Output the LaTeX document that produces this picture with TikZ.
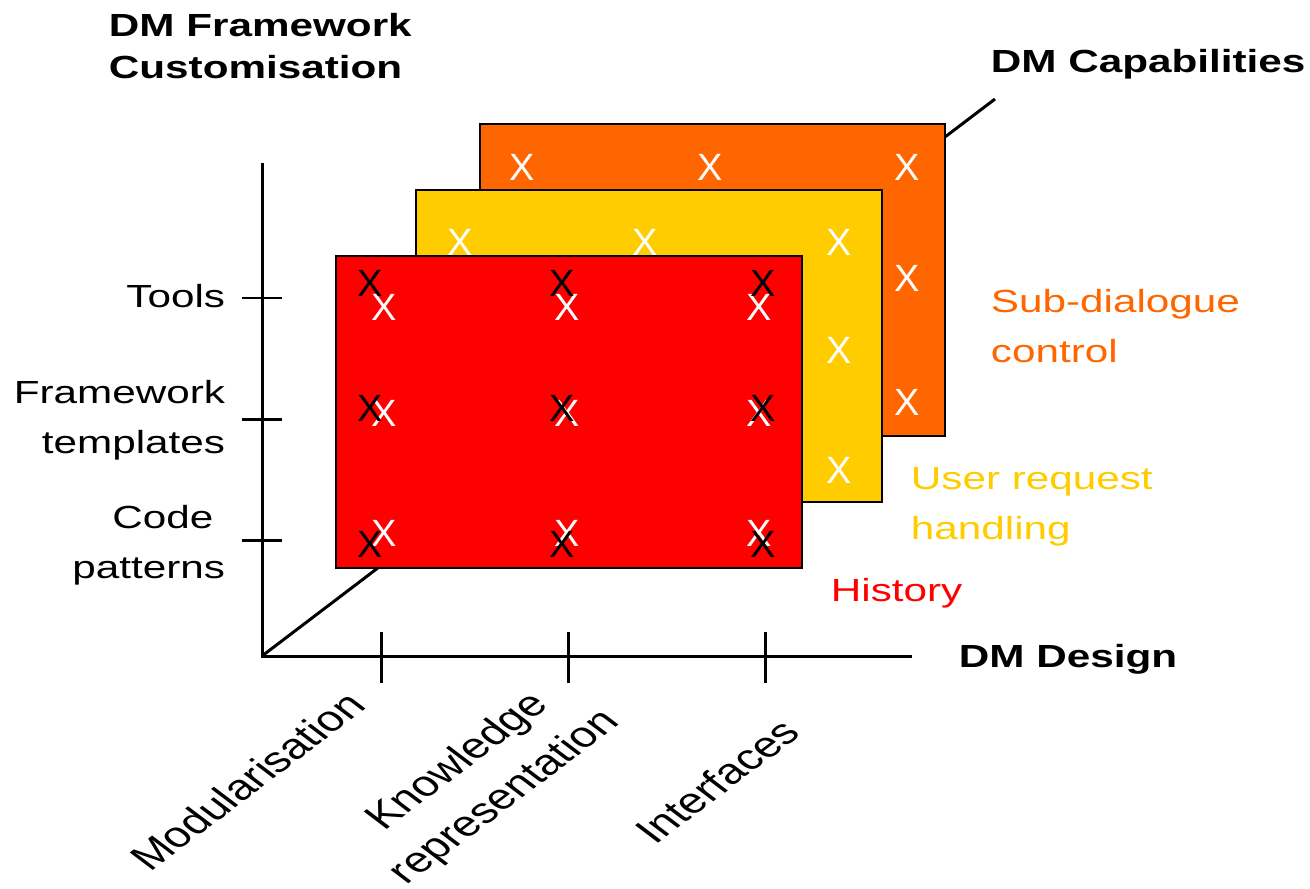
\documentclass[tikz,border=0pt]{standalone}
\usepackage{fontspec}
\setmainfont{Liberation Sans}
\definecolor{capor}{HTML}{FF6600}
\definecolor{capye}{HTML}{FFCC00}
\definecolor{capre}{HTML}{FF0000}
\tikzset{
  lbl/.style={font=\fontsize{9.1}{14.2}\selectfont, inner sep=0pt, xscale=1.32, transform shape},
  ttl/.style={lbl, font=\fontsize{9.1}{11.7}\selectfont\bfseries},
  slant/.style={lbl, font=\fontsize{10.2}{14.2}\selectfont, rotate=45},
  axis/.style={line width=0.85pt},
  plane/.style={draw=black, line width=0.55pt},
  wx/.style={text=white, font=\fontsize{10.8}{13}\selectfont, inner sep=0pt},
  bx/.style={wx, text=black}
}
\begin{document}
\begin{tikzpicture}[x=0.01cm,y=-0.01cm]
\useasboundingbox (0,0) rectangle (1310,888);

\coordinate (o) at (262,656);
\coordinate (ytop) at (262,163);
\coordinate (xend) at (912,656);
\coordinate (zend) at (995,99);

\draw[axis] (o) -- (zend);
\draw[axis] (ytop) -- (o) -- (xend);
\foreach \y in {298,419,540}
  \draw[axis] (242,\y) -- (282,\y);
\foreach \x in {381,568,765}
  \draw[axis] (\x,632) -- (\x,683);

% planes, back to front
\filldraw[plane, fill=capor] (480,124) rectangle (945,436);
\foreach \x/\y in {522/167,710/167,907/167,907/278,907/402}
  \node[wx] at (\x,\y) {X};
\filldraw[plane, fill=capye] (416,190) rectangle (882,502);
\foreach \x/\y in {460/242,645/242,839/242,839/350,839/470}
  \node[wx] at (\x,\y) {X};
\filldraw[plane, fill=capre] (336,256) rectangle (802,568);
\foreach \x in {384,567,759}
  \foreach \y in {307,413,533}
    \node[wx] at (\x,\y) {X};
\foreach \x in {370,562,763}
  \foreach \y in {283,408,544}
    \node[bx] at (\x,\y) {X};

\node[ttl, anchor=west, align=left] (ycap) at (108,46) {DM Framework\\Customisation};
\node[ttl, anchor=base west] (zcap) at (990,73) {DM Capabilities};
\node[ttl, anchor=base west] (xcap) at (958,667) {DM Design};

\node[lbl, anchor=base east] (tools) at (226,307) {Tools};
\node[lbl, anchor=east, align=right] (templ) at (226,420) {Framework\\templates};
\node[lbl, anchor=east, align=right] (code) at (226,545) {Code\kern.278em\\patterns};

\node[lbl, anchor=west, align=left, text=capor] (subd) at (990,326) {Sub-dialogue\\control};
\node[lbl, anchor=west, align=left, text=capye] (ureq) at (910,507) {User request\\handling};
\node[lbl, anchor=base west, text=capre] (hist) at (830,601) {History};

\node[slant] (modul) at (247,781) {Modularisation};
\node[slant, align=center] (know) at (482,780) {Knowledge\\representation};
\node[slant] (intf) at (717,781) {Interfaces};
\end{tikzpicture}
\end{document}
